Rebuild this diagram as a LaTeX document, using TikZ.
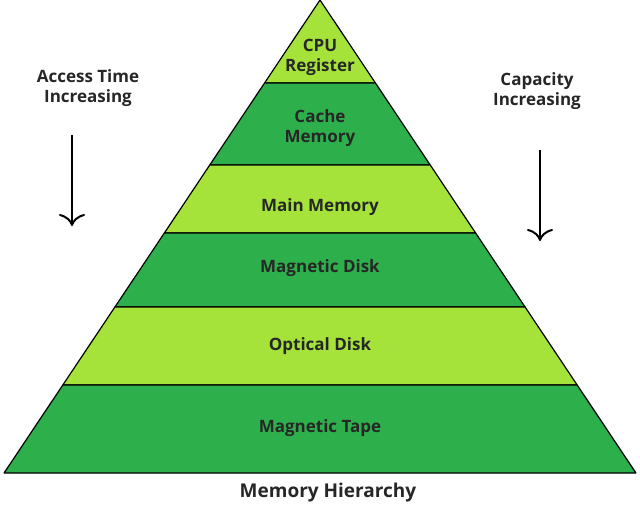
\documentclass[tikz,border=0pt]{standalone}
\usepackage{fontspec}
\setmainfont{Open Sans}
\usetikzlibrary{arrows.meta}
\begin{document}
\begin{tikzpicture}[x=1pt,y=-1pt,
  lite/.style={fill=lgreen,draw=black,line width=1.2pt,line join=round},
  dark/.style={fill=dgreen,draw=black,line width=1.2pt,line join=round},
  lbl/.style={font=\bfseries\fontsize{17}{20}\selectfont,align=center,text=black!85},
  arr/.style={line width=2pt,-{To[length=12pt,width=26pt]}}]
\definecolor{lgreen}{HTML}{A6E33A}
\definecolor{dgreen}{HTML}{2DB04C}
\useasboundingbox (0,0) rectangle (640,507);
\foreach \a/\b/\s in {0/83/lite,83/165/dark,165/233/lite,233/307/dark,307/385/lite,385/473/dark}{
  \path[\s] ({320-0.668*\a},\a) -- ({320+0.668*\a},\a) -- ({320+0.668*\b},\b) -- ({320-0.668*\b},\b) -- cycle;
}
\node[lbl] (cpu) at (320,57) {CPU\\Register};
\node[lbl] (cache) at (320,128) {Cache\\Memory};
\node[lbl] (main) at (320,207) {Main Memory};
\node[lbl] (mdisk) at (320,268) {Magnetic Disk};
\node[lbl] (odisk) at (320,346) {Optical Disk};
\node[lbl] (tape) at (320,428) {Magnetic Tape};
\node[lbl,font=\bfseries\fontsize{19}{22}\selectfont] (title) at (328,493) {Memory Hierarchy};
\node[lbl] (acc) at (88,88) {Access Time\\Increasing};
\node[lbl] (cap) at (537,91) {Capacity\\Increasing};
\coordinate (a1) at (72,135); \coordinate (a2) at (72,226);
\coordinate (c1) at (540,150); \coordinate (c2) at (540,241);
\draw[arr] (a1) -- (a2);
\draw[arr] (c1) -- (c2);
\end{tikzpicture}
\end{document}
